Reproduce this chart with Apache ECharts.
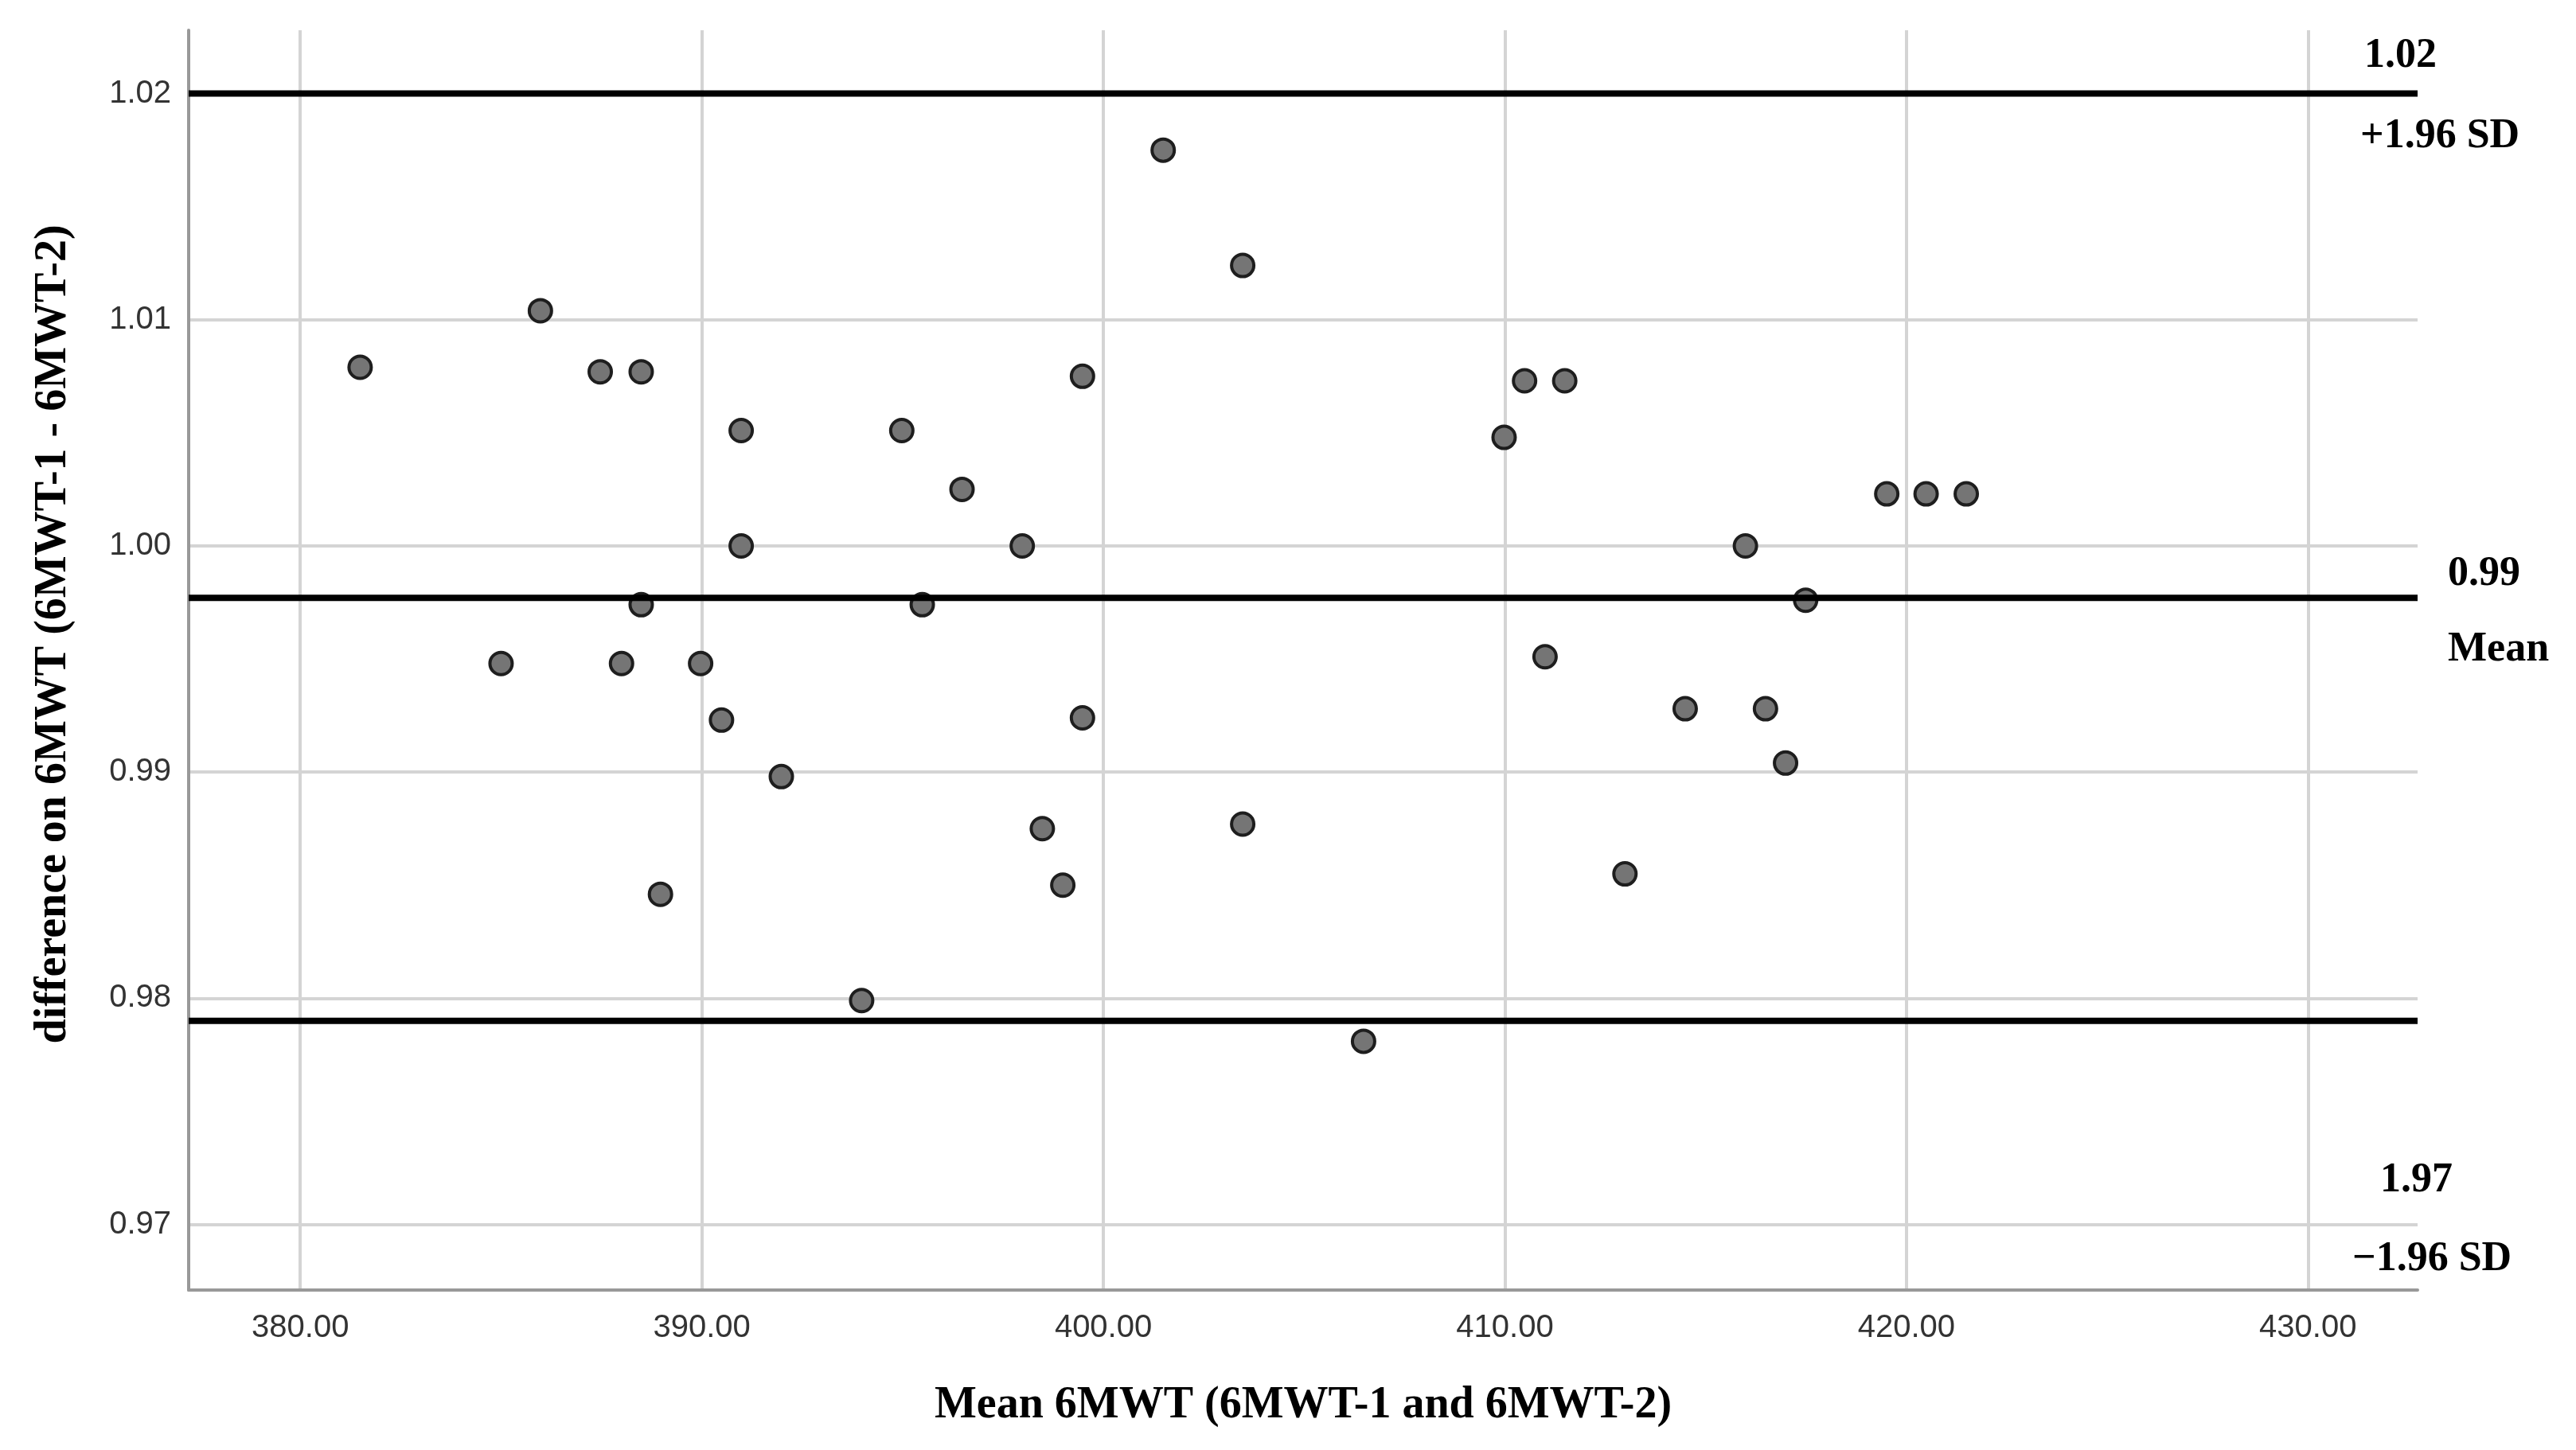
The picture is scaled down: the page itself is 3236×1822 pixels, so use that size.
<!DOCTYPE html>
<html>
<head>
<meta charset="utf-8">
<script src="https://cdn.jsdelivr.net/npm/echarts@6/dist/echarts.min.js"></script>
<style>
html,body{margin:0;padding:0;background:#fff;}
#chart{width:3236px;height:1822px;}
</style>
</head>
<body>
<div id="chart"></div>
<script>
// ---- data ----
const meanX = [381.49, 385.00, 385.98, 387.47, 388.49, 388.00, 388.49, 388.97, 389.97, 390.98,
               390.98, 390.49, 391.98, 393.98, 394.98, 395.49, 396.48, 397.98, 398.48, 398.99,
               399.48, 399.48, 401.49, 403.47, 403.47, 406.48, 409.98, 410.49, 411.49, 411.00,
               412.99, 414.49, 415.99, 416.49, 416.99, 417.49, 419.51, 420.49, 421.49];
const diffY = [1.0079, 0.9948, 1.0104, 1.0077, 1.0077, 0.9948, 0.9974, 0.9846, 0.9948, 1.0051,
               1.0000, 0.9923, 0.9898, 0.9799, 1.0051, 0.9974, 1.0025, 1.0000, 0.9875, 0.9850,
               1.0075, 0.9924, 1.0175, 1.0124, 0.9877, 0.9781, 1.0048, 1.0073, 1.0073, 0.9951,
               0.9855, 0.9928, 1.0000, 0.9928, 0.9904, 0.9976, 1.0023, 1.0023, 1.0023];
const limitValues = [1.0200, 0.9977, 0.9790];
const limitValueLabels = ['1.02', '0.99', '1.97'];
const limitNameLabels = ['+1.96 SD', 'Mean', '\u22121.96 SD'];
const xTicks = [380, 390, 400, 410, 420, 430];
const yTicks = [0.97, 0.98, 0.99, 1.00, 1.01, 1.02];
const xRange = [377.22, 432.73];
const yRange = [0.9671, 1.0228];
const xTitle = 'Mean 6MWT (6MWT-1 and 6MWT-2)';
const yTitle = 'difference on 6MWT (6MWT-1 - 6MWT-2)';

// ---- styles ----
const serif = '"Liberation Serif", "DejaVu Serif", serif';
const sans = '"Liberation Sans", Arial, sans-serif';
const gridColor = '#d4d4d4';

const chart = echarts.init(document.getElementById('chart'), null, {renderer: 'canvas'});

const pts = meanX.map((x, i) => [x, diffY[i]]);
const limitSeries = limitValues.map(v => ({
  type: 'line',
  data: [[xRange[0], v], [xRange[1], v]],
  symbol: 'none',
  silent: true,
  z: 5,
  lineStyle: {color: '#000', width: 8},
  animation: false
}));

chart.setOption({
  animation: false,
  backgroundColor: '#fff',
  grid: {left: 237, right: 199, top: 38, bottom: 201, containLabel: false},
  xAxis: {
    type: 'value',
    min: xRange[0], max: xRange[1],
    axisLine: {show: true, onZero: false, lineStyle: {color: '#999', width: 4}},
    axisTick: {show: false, customValues: xTicks},
    axisLabel: {customValues: xTicks, formatter: v => v.toFixed(2), color: '#333', fontFamily: sans, fontSize: 40, margin: 28},
    splitLine: {show: true, lineStyle: {color: gridColor, width: 4}}
  },
  yAxis: {
    type: 'value',
    min: yRange[0], max: yRange[1],
    axisLine: {show: true, onZero: false, lineStyle: {color: '#999', width: 4}},
    axisTick: {show: false, customValues: yTicks},
    axisLabel: {customValues: yTicks, formatter: v => v.toFixed(2), color: '#333', fontFamily: sans, fontSize: 40, margin: 22},
    splitLine: {show: true, lineStyle: {color: gridColor, width: 4}}
  },
  series: [{
    type: 'scatter',
    data: pts,
    symbol: 'circle',
    symbolSize: 28,
    z: 3,
    itemStyle: {color: '#757575', borderColor: '#1e1e1e', borderWidth: 4, opacity: 1}
  }].concat(limitSeries)
});

// right-side annotations tied to limit lines
const valOffsets = [[2970, -47], [3075, -30], [2990, 201]];
const nameOffsets = [[2965, 54], [3075, 65], [2955, 300]];
const graphics = [];
limitValues.forEach((v, i) => {
  const py = chart.convertToPixel({gridIndex: 0}, [xRange[1], v])[1];
  graphics.push({type: 'text', x: valOffsets[i][0], y: py + valOffsets[i][1],
    style: {text: limitValueLabels[i], font: 'bold 52px ' + serif, fill: '#000', textAlign: 'left', textVerticalAlign: 'middle'}});
  graphics.push({type: 'text', x: nameOffsets[i][0], y: py + nameOffsets[i][1],
    style: {text: limitNameLabels[i], font: 'bold 52px ' + serif, fill: '#000', textAlign: 'left', textVerticalAlign: 'middle'}});
});
graphics.push({type: 'text', x: 1637, y: 1767,
  style: {text: xTitle, font: 'bold 56px ' + serif, fill: '#000', textAlign: 'center', textVerticalAlign: 'middle'}});
graphics.push({type: 'text', x: 68, y: 797, rotation: Math.PI / 2,
  style: {text: yTitle, font: 'bold 56px ' + serif, fill: '#000', textAlign: 'center', textVerticalAlign: 'middle'}});
chart.setOption({graphic: graphics});
</script>
</body>
</html>
